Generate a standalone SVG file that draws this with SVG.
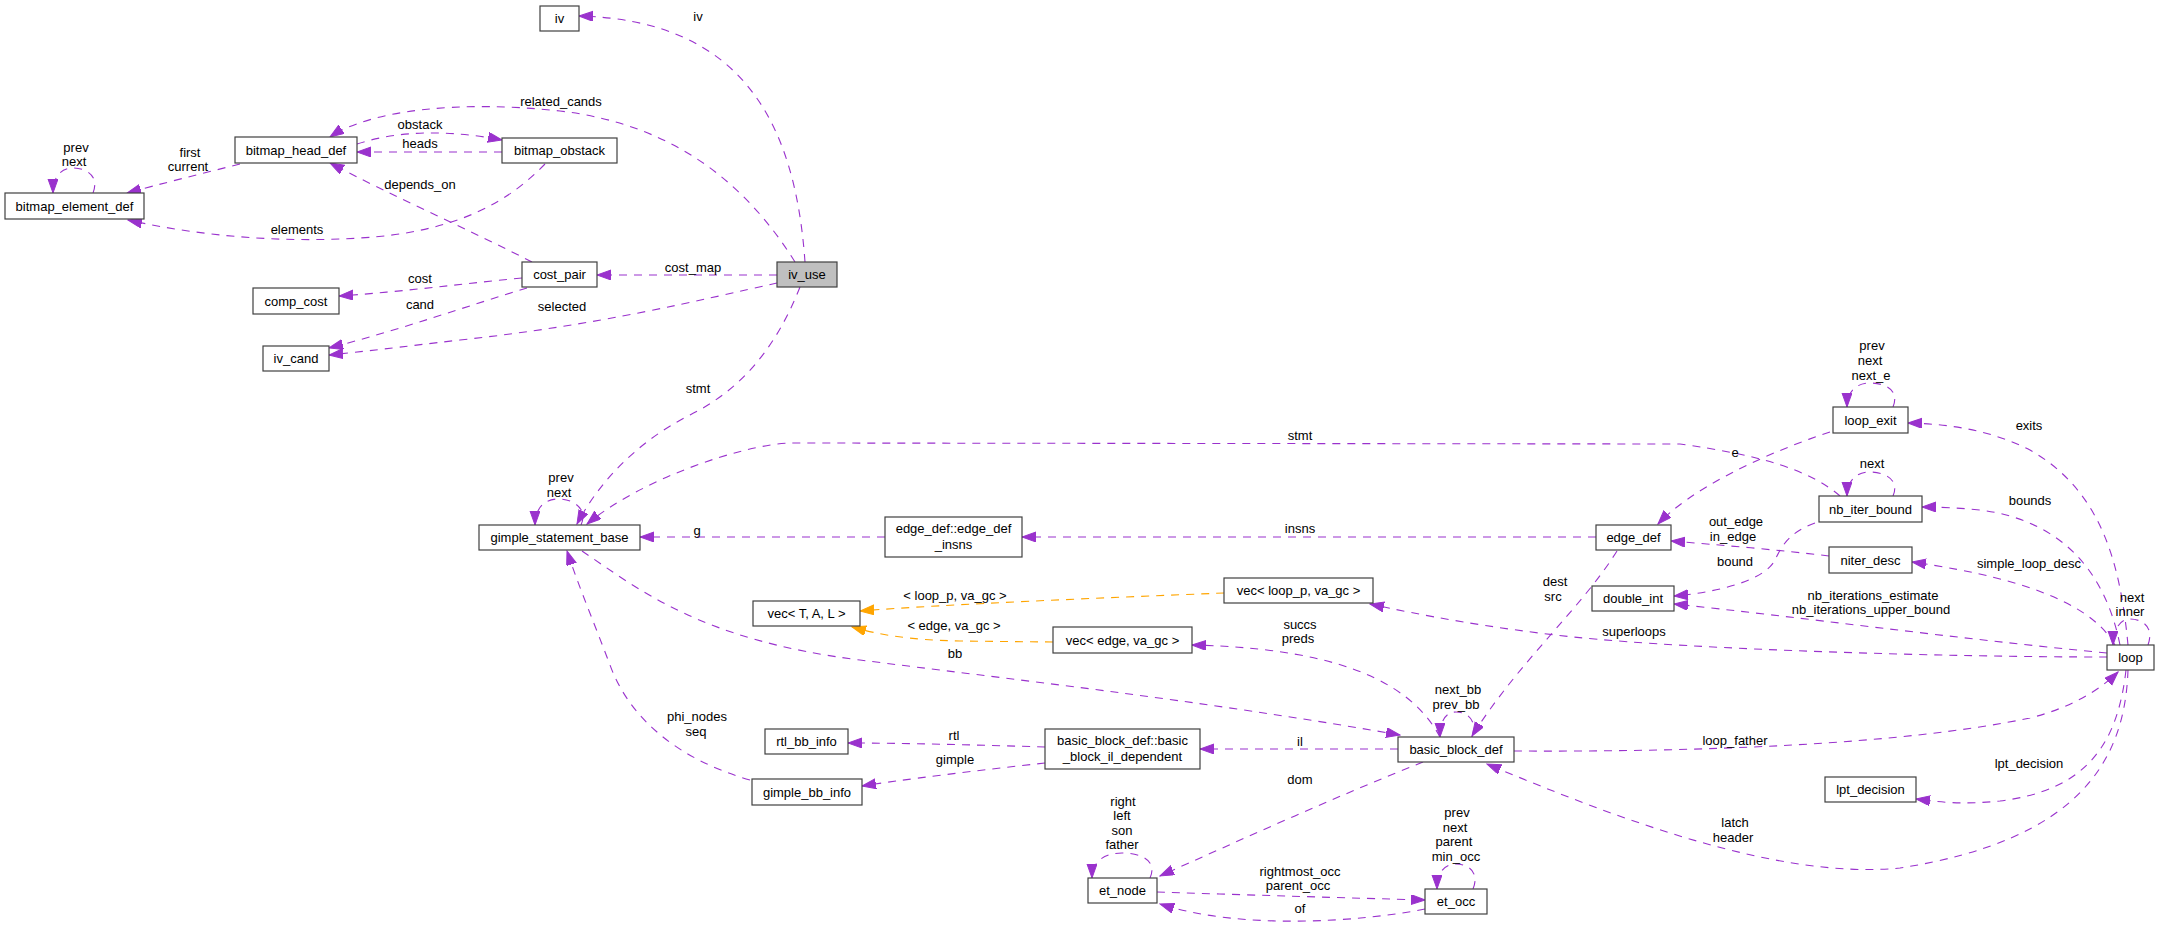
<svg xmlns="http://www.w3.org/2000/svg" width="2160" height="929" viewBox="0 0 2160 929">
<style>
text{font-family:"Liberation Sans",Arial,Helvetica,sans-serif;font-size:13px;fill:#000;text-anchor:middle}
.n rect{fill:#fff;stroke:#404040;stroke-width:1.2}
.n rect.root{fill:#bfbfbf}
.e path{fill:none;stroke:#9a32cd;stroke-width:1.1;stroke-dasharray:8,7;marker-end:url(#ap)}
.e path.o{stroke:#ffa500;marker-end:url(#ao)}
</style>
<defs>
<marker id="ap" markerUnits="userSpaceOnUse" markerWidth="15" markerHeight="11" refX="14" refY="5" orient="auto" viewBox="0 0 15 11">
<path d="M0,0 L14,5 L0,10 z" fill="#9a32cd" stroke="#9a32cd" stroke-width="1"/>
</marker>
<marker id="ao" markerUnits="userSpaceOnUse" markerWidth="15" markerHeight="11" refX="14" refY="5" orient="auto" viewBox="0 0 15 11">
<path d="M0,0 L14,5 L0,10 z" fill="#ffa500" stroke="#ffa500" stroke-width="1"/>
</marker>
</defs>
<rect width="2160" height="929" fill="#fff"/>
<g id="connectors" class="e">
<path d="M805,262 C795,120 740,20 579,16"/>
<path d="M795,262 C750,190 680,125 560,111 C460,100 370,110 330,137"/>
<path d="M357,144 C400,130 450,130 502,140"/>
<path d="M502,152 L357,152"/>
<path d="M240,164 C200,174 160,184 127,193"/>
<path d="M93,193 C100,175 85,168 73,168 C60,168 53,178 53,193"/>
<path d="M545,164 C510,200 460,232 360,238 C280,243 200,236 128,220"/>
<path d="M532,262 C470,230 390,195 330,163"/>
<path d="M777,275 L597,275"/>
<path d="M522,278 C460,284 400,292 339,296"/>
<path d="M527,288 C470,305 400,330 329,348"/>
<path d="M777,283 C700,300 600,325 460,340 C400,347 360,352 329,355"/>
<path d="M800,287 C775,350 740,390 690,415 C640,440 600,480 577,524"/>
<path d="M1840,496 C1810,470 1760,455 1680,444 L790,443 C740,445 640,480 587,524"/>
<path d="M1830,432 C1760,455 1690,490 1658,524"/>
<path d="M1893,407 C1900,390 1885,383 1870,383 C1855,383 1847,393 1847,407"/>
<path d="M2128,645 C2120,560 2100,490 2030,450 C1990,430 1950,424 1908,423"/>
<path d="M2120,645 C2105,570 2060,520 1980,510 C1960,508 1940,507 1922,507"/>
<path d="M2115,645 C2095,610 2040,580 1912,562"/>
<path d="M2148,645 C2155,625 2140,619 2130,619 C2120,619 2113,630 2113,645"/>
<path d="M2107,653 C1950,638 1800,617 1674,604"/>
<path d="M2107,657 C1950,657 1700,650 1573,637 C1490,628 1420,615 1370,604"/>
<path d="M1893,496 C1900,480 1885,472 1870,472 C1855,472 1847,482 1847,496"/>
<path d="M1815,523 C1790,532 1782,545 1775,560 C1765,580 1720,592 1674,596"/>
<path d="M1829,556 C1780,550 1720,545 1671,541"/>
<path d="M1596,537 L1022,537"/>
<path d="M885,537 L640,537"/>
<path d="M581,525 C588,510 575,499 558,499 C543,499 535,510 535,525"/>
<path d="M582,551 C640,590 700,640 860,660 C1000,678 1200,700 1400,735"/>
<path class="o" d="M1224,593 C1100,598 950,604 860,611"/>
<path class="o" d="M1053,642 L960,641 C910,640 880,635 852,627"/>
<path d="M1440,737 C1420,700 1380,670 1300,655 C1260,648 1230,646 1192,645"/>
<path d="M1472,737 C1478,720 1467,712 1456,712 C1445,712 1440,722 1440,737"/>
<path d="M1617,551 C1580,610 1520,660 1472,736"/>
<path d="M1398,749 L1200,749"/>
<path d="M1045,747 C980,745 900,743 848,743"/>
<path d="M1045,763 C980,770 900,780 862,786"/>
<path d="M750,780 C680,760 630,720 610,665 C595,625 580,590 567,551"/>
<path d="M1423,762 C1340,795 1240,840 1160,876"/>
<path d="M1150,878 C1158,860 1140,853 1122,853 C1104,853 1092,862 1092,878"/>
<path d="M1157,892 C1250,895 1350,898 1425,900"/>
<path d="M1425,909 C1360,922 1240,930 1160,904"/>
<path d="M1473,889 C1480,872 1468,864 1456,864 C1444,864 1437,873 1437,889"/>
<path d="M1514,751 C1700,752 1900,745 2030,718 C2070,708 2100,690 2118,672"/>
<path d="M2128,670 C2125,760 2080,840 1900,868 C1780,880 1620,820 1487,764"/>
<path d="M2126,670 C2118,740 2090,790 2000,801 C1960,805 1940,802 1916,799"/>
</g>
<g id="edge-labels">
<text x="698" y="20.5">iv</text>
<text x="561" y="105.5">related_cands</text>
<text x="420" y="128.5">obstack</text>
<text x="420" y="147.5">heads</text>
<text x="190" y="156.5">first</text>
<text x="188" y="170.5">current</text>
<text x="76" y="151.5">prev</text>
<text x="74" y="165.5">next</text>
<text x="297" y="233.5">elements</text>
<text x="420" y="188.5">depends_on</text>
<text x="693" y="271.5">cost_map</text>
<text x="420" y="282.5">cost</text>
<text x="420" y="308.5">cand</text>
<text x="562" y="310.5">selected</text>
<text x="698" y="392.5">stmt</text>
<text x="1300" y="439.5">stmt</text>
<text x="1735" y="456.5">e</text>
<text x="1872" y="349.5">prev</text>
<text x="1870" y="364.5">next</text>
<text x="1871" y="379.5">next_e</text>
<text x="2029" y="429.5">exits</text>
<text x="1872" y="467.5">next</text>
<text x="561" y="481.5">prev</text>
<text x="559" y="496.5">next</text>
<text x="697" y="534.5">g</text>
<text x="1300" y="532.5">insns</text>
<text x="955" y="599.5">&lt; loop_p, va_gc &gt;</text>
<text x="954" y="629.5">&lt; edge, va_gc &gt;</text>
<text x="955" y="657.5">bb</text>
<text x="697" y="720.5">phi_nodes</text>
<text x="696" y="735.5">seq</text>
<text x="954" y="739.5">rtl</text>
<text x="955" y="763.5">gimple</text>
<text x="1300" y="628.5">succs</text>
<text x="1298" y="642.5">preds</text>
<text x="1300" y="745.5">il</text>
<text x="1300" y="783.5">dom</text>
<text x="1123" y="805.5">right</text>
<text x="1122" y="819.5">left</text>
<text x="1122" y="834.5">son</text>
<text x="1122" y="848.5">father</text>
<text x="1300" y="875.5">rightmost_occ</text>
<text x="1298" y="889.5">parent_occ</text>
<text x="1300" y="912.5">of</text>
<text x="1736" y="525.5">out_edge</text>
<text x="1733" y="540.5">in_edge</text>
<text x="1735" y="565.5">bound</text>
<text x="1555" y="585.5">dest</text>
<text x="1553" y="600.5">src</text>
<text x="1634" y="635.5">superloops</text>
<text x="1458" y="693.5">next_bb</text>
<text x="1456" y="708.5">prev_bb</text>
<text x="1735" y="744.5">loop_father</text>
<text x="1735" y="826.5">latch</text>
<text x="1733" y="841.5">header</text>
<text x="1457" y="816.5">prev</text>
<text x="1455" y="831.5">next</text>
<text x="1454" y="845.5">parent</text>
<text x="1456" y="860.5">min_occ</text>
<text x="2030" y="504.5">bounds</text>
<text x="2029" y="567.5">simple_loop_desc</text>
<text x="1873" y="599.5">nb_iterations_estimate</text>
<text x="1871" y="613.5">nb_iterations_upper_bound</text>
<text x="2132" y="601.5">next</text>
<text x="2130" y="615.5">inner</text>
<text x="2029" y="767.5">lpt_decision</text>
</g>
<g id="iv" class="n"><rect x="540" y="6" width="39" height="25"/><text x="559.5" y="23">iv</text></g>
<g id="bitmap_head_def" class="n"><rect x="235" y="137" width="122" height="26"/><text x="296" y="154.5">bitmap_head_def</text></g>
<g id="bitmap_element_def" class="n"><rect x="5" y="193" width="139" height="26"/><text x="74.5" y="210.5">bitmap_element_def</text></g>
<g id="bitmap_obstack" class="n"><rect x="502" y="138" width="115" height="25"/><text x="559.5" y="155">bitmap_obstack</text></g>
<g id="comp_cost" class="n"><rect x="253" y="288" width="86" height="26"/><text x="296" y="305.5">comp_cost</text></g>
<g id="iv_cand" class="n"><rect x="263" y="346" width="66" height="25"/><text x="296" y="363">iv_cand</text></g>
<g id="cost_pair" class="n"><rect x="522" y="262" width="75" height="25"/><text x="559.5" y="279">cost_pair</text></g>
<g id="iv_use" class="n"><rect class="root" x="777" y="262" width="60" height="25"/><text x="807" y="279">iv_use</text></g>
<g id="gimple_statement_base" class="n"><rect x="479" y="525" width="161" height="25"/><text x="559.5" y="542">gimple_statement_base</text></g>
<g id="edge_def_insns" class="n"><rect x="885" y="517" width="137" height="40"/><text x="953.5" y="532.5">edge_def::edge_def</text><text x="953.5" y="548.5">_insns</text></g>
<g id="vec_T_A_L" class="n"><rect x="753" y="601" width="107" height="25"/><text x="806.5" y="618">vec&lt; T, A, L &gt;</text></g>
<g id="vec_loop_p" class="n"><rect x="1224" y="578" width="149" height="25"/><text x="1298.5" y="595">vec&lt; loop_p, va_gc &gt;</text></g>
<g id="vec_edge" class="n"><rect x="1053" y="627" width="139" height="26"/><text x="1122.5" y="644.5">vec&lt; edge, va_gc &gt;</text></g>
<g id="rtl_bb_info" class="n"><rect x="765" y="729" width="83" height="25"/><text x="806.5" y="746">rtl_bb_info</text></g>
<g id="gimple_bb_info" class="n"><rect x="752" y="779" width="110" height="26"/><text x="807" y="796.5">gimple_bb_info</text></g>
<g id="basic_block_il_dependent" class="n"><rect x="1045" y="729" width="155" height="40"/><text x="1122.5" y="744.5">basic_block_def::basic</text><text x="1122.5" y="760.5">_block_il_dependent</text></g>
<g id="basic_block_def" class="n"><rect x="1398" y="737" width="116" height="25"/><text x="1456" y="754">basic_block_def</text></g>
<g id="et_node" class="n"><rect x="1088" y="878" width="69" height="25"/><text x="1122.5" y="895">et_node</text></g>
<g id="et_occ" class="n"><rect x="1425" y="889" width="62" height="25"/><text x="1456" y="906">et_occ</text></g>
<g id="edge_def" class="n"><rect x="1596" y="525" width="75" height="25"/><text x="1633.5" y="542">edge_def</text></g>
<g id="double_int" class="n"><rect x="1592" y="586" width="82" height="25"/><text x="1633" y="603">double_int</text></g>
<g id="loop_exit" class="n"><rect x="1833" y="407" width="75" height="26"/><text x="1870.5" y="424.5">loop_exit</text></g>
<g id="nb_iter_bound" class="n"><rect x="1819" y="496" width="103" height="26"/><text x="1870.5" y="513.5">nb_iter_bound</text></g>
<g id="niter_desc" class="n"><rect x="1829" y="547" width="83" height="26"/><text x="1870.5" y="564.5">niter_desc</text></g>
<g id="loop" class="n"><rect x="2107" y="645" width="47" height="25"/><text x="2130.5" y="662">loop</text></g>
<g id="lpt_decision" class="n"><rect x="1825" y="777" width="91" height="25"/><text x="1870.5" y="794">lpt_decision</text></g>
</svg>
